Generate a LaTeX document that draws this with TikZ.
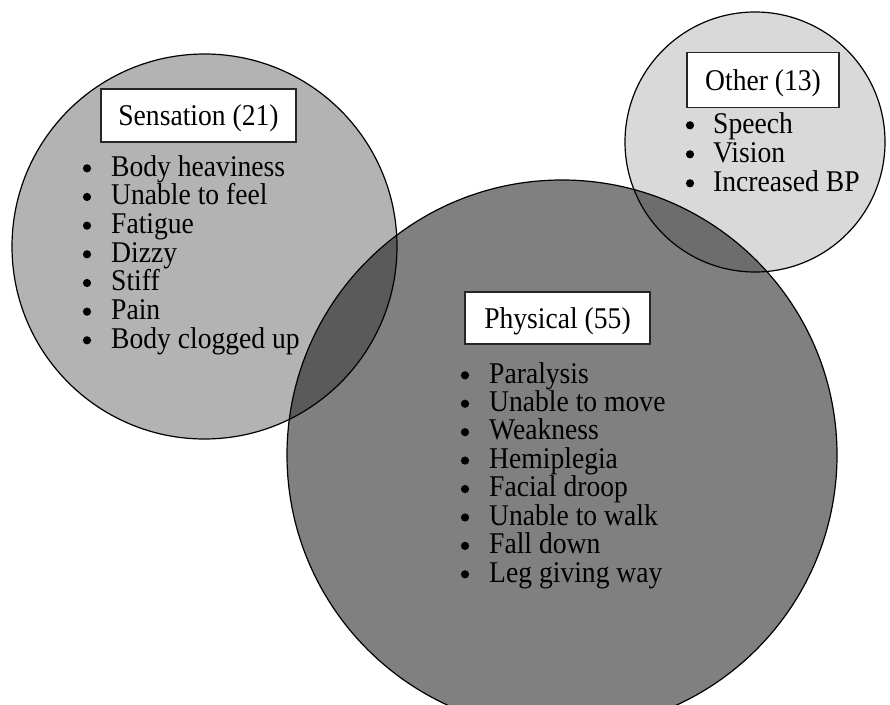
\documentclass[tikz,border=0pt]{standalone}
\usepackage{fontspec}
\setmainfont{Liberation Serif}
\definecolor{senscol}{RGB}{179,179,179}
\definecolor{physcol}{RGB}{128,128,128}
\definecolor{othercol}{RGB}{217,217,217}
\definecolor{spcol}{RGB}{90,90,90}
\definecolor{opcol}{RGB}{109,109,109}
\newcommand{\vstretch}[1]{\scalebox{1}[1.09]{#1}}
\tikzset{
  ring/.style={draw=black, line width=1.2pt},
  labelbox/.style={draw=black!85, line width=1.4pt, fill=white, inner sep=0pt,
    text height=20pt, text depth=0pt, font=\fontsize{27.6pt}{28.6pt}\selectfont},
  itemtext/.style={anchor=base west, inner sep=0pt, font=\fontsize{27.6pt}{28.6pt}\selectfont},
  bulletdot/.style={fill=black}
}
\begin{document}
\begin{tikzpicture}[x=1pt,y=-1pt]
\useasboundingbox (0,0) rectangle (890,704);
% fills
\fill[senscol] (204.5,246.5) circle[radius=192.5pt];
\fill[othercol] (755,142) circle[radius=130pt];
\fill[physcol] (562,455) circle[radius=275pt];
\begin{scope}
  \clip (204.5,246.5) circle[radius=192.5pt];
  \fill[spcol] (562,455) circle[radius=275pt];
\end{scope}
\begin{scope}
  \clip (755,142) circle[radius=130pt];
  \fill[opcol] (562,455) circle[radius=275pt];
\end{scope}
% outlines
\draw[ring] (204.5,246.5) circle[radius=192.5pt];
\draw[ring] (755,142) circle[radius=130pt];
\draw[ring] (562,455) circle[radius=275pt];
% label boxes
\node[labelbox, minimum width=195pt, minimum height=53pt] (sens) at (198.5,115.5) {\vstretch{Sensation (21)}};
\node[labelbox, minimum width=185pt, minimum height=52pt] (phys) at (557.5,318) {\vstretch{Physical (55)}};
\node[labelbox, minimum width=152pt, minimum height=55pt] (other) at (763,80) {\vstretch{Other (13)}};
% sensation list
\foreach \t [count=\i] in {Body heaviness, Unable to feel, Fatigue, Dizzy, Stiff, Pain, Body clogged up} {
  \node[itemtext] (sens\i) at (111,{176+28.67*(\i-1)}) {\vstretch{\t}};
  \fill[bulletdot] (87,{168.3+28.67*(\i-1)}) circle[radius=4.1pt];
}
% physical list
\foreach \t [count=\i] in {Paralysis, Unable to move, Weakness, Hemiplegia, Facial droop, Unable to walk, Fall down, Leg giving way} {
  \node[itemtext] (phys\i) at (489,{383+28.43*(\i-1)}) {\vstretch{\t}};
  \fill[bulletdot] (465,{375.3+28.43*(\i-1)}) circle[radius=4.1pt];
}
% other list
\foreach \t [count=\i] in {Speech, Vision, Increased BP} {
  \node[itemtext] (other\i) at (713,{133+29*(\i-1)}) {\vstretch{\t}};
  \fill[bulletdot] (690,{125.3+29*(\i-1)}) circle[radius=4.1pt];
}
\end{tikzpicture}
\end{document}
